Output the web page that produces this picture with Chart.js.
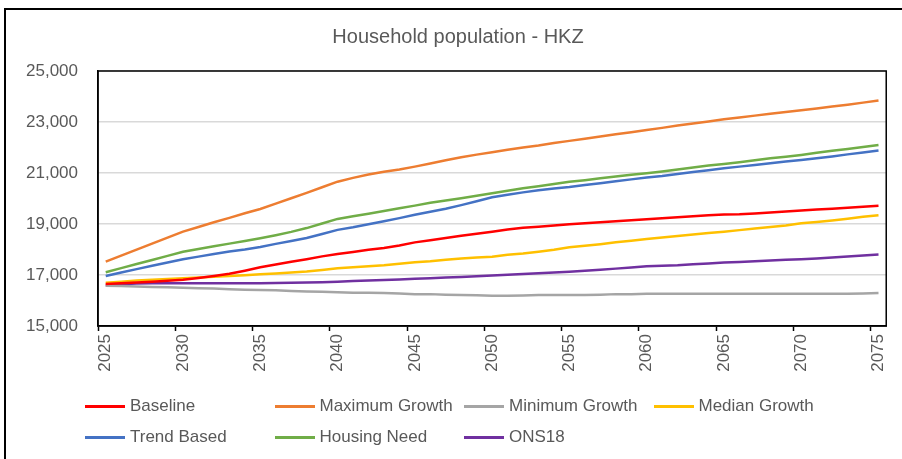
<!DOCTYPE html>
<html>
<head>
<meta charset="utf-8">
<title>Household population - HKZ</title>
<script src="https://cdn.jsdelivr.net/npm/chart.js@4.4.1/dist/chart.umd.min.js"></script>
<style>
    html, body { margin: 0; padding: 0; background: #fff; }
    #wrap { position: relative; width: 902px; height: 459px; overflow: hidden; font-family: 'Liberation Sans', Arial, sans-serif; }
    #marco { position: absolute; left: 4px; top: 8px; width: 1000px; height: 1000px; border-left: 2px solid #000; border-top: 2px solid #000; }
    #grafico { position: absolute; left: 0; top: 0; }
    .leyenda-item { position: absolute; height: 20px; display: flex; align-items: center; font-size: 17px; color: #595959; white-space: nowrap; }
    .leyenda-linea { width: 40px; height: 3px; margin-right: 5px; }
</style>
</head>
<body>
<div id="wrap">
    <div id="marco"></div>
    <canvas id="grafico" width="902" height="459"></canvas>
    <div id="leyenda"></div>
</div>
<script>
// Años del eje X
const anios = [2025, 2026, 2027, 2028, 2029, 2030, 2031, 2032, 2033, 2034,
    2035, 2036, 2037, 2038, 2039, 2040, 2041, 2042, 2043, 2044,
    2045, 2046, 2047, 2048, 2049, 2050, 2051, 2052, 2053, 2054,
    2055, 2056, 2057, 2058, 2059, 2060, 2061, 2062, 2063, 2064,
    2065, 2066, 2067, 2068, 2069, 2070, 2071, 2072, 2073, 2074, 2075];

// Valores
const baseline = [16650, 16680, 16710, 16740, 16770, 16810, 16880, 16960, 17050, 17170,
    17300, 17410, 17520, 17620, 17730, 17820, 17900, 17990, 18060, 18160,
    18280, 18360, 18450, 18540, 18620, 18700, 18780, 18850, 18890, 18940,
    18990, 19030, 19070, 19110, 19150, 19190, 19230, 19260, 19300, 19340,
    19370, 19380, 19410, 19450, 19490, 19530, 19570, 19600, 19640, 19680, 19720];

const maximumGrowth = [17525, 17760, 17995, 18230, 18465, 18700, 18880, 19070, 19240, 19420,
    19590, 19800, 20010, 20220, 20440, 20660, 20810, 20940, 21050, 21140,
    21250, 21370, 21500, 21620, 21720, 21810, 21910, 22000, 22080, 22180,
    22260, 22340, 22430, 22520, 22600, 22690, 22770, 22860, 22940, 23020,
    23110, 23180, 23250, 23320, 23390, 23460, 23530, 23610, 23680, 23760, 23840];

const minimumGrowth = [16580, 16570, 16550, 16530, 16520, 16500, 16480, 16470, 16440, 16420,
    16410, 16400, 16370, 16350, 16340, 16320, 16300, 16300, 16290, 16270,
    16250, 16250, 16230, 16220, 16210, 16190, 16190, 16200, 16220, 16220,
    16220, 16220, 16230, 16250, 16250, 16260, 16260, 16260, 16260, 16260,
    16260, 16260, 16260, 16260, 16260, 16260, 16260, 16260, 16260, 16270, 16290];

const medianGrowth = [16700, 16740, 16780, 16810, 16840, 16870, 16900, 16930, 16960, 16990,
    17030, 17060, 17100, 17140, 17200, 17260, 17300, 17340, 17380, 17440,
    17500, 17540, 17600, 17650, 17690, 17720, 17790, 17840, 17910, 17990,
    18090, 18150, 18210, 18280, 18340, 18410, 18470, 18530, 18590, 18650,
    18700, 18760, 18820, 18880, 18940, 19030, 19080, 19140, 19210, 19280, 19340];

const trendBased = [16960, 17100, 17230, 17360, 17490, 17620, 17720, 17820, 17920, 18000,
    18100, 18220, 18330, 18450, 18610, 18770, 18870, 18990, 19110, 19230,
    19360, 19480, 19600, 19740, 19890, 20050, 20150, 20240, 20320, 20390,
    20450, 20530, 20600, 20680, 20750, 20820, 20880, 20960, 21040, 21110,
    21190, 21250, 21310, 21380, 21450, 21510, 21580, 21650, 21730, 21800, 21880];

const housingNeed = [17110, 17270, 17430, 17590, 17750, 17910, 18020, 18130, 18230, 18330,
    18440, 18560, 18690, 18840, 19020, 19200, 19300, 19400, 19510, 19620,
    19720, 19830, 19920, 20010, 20110, 20210, 20300, 20400, 20480, 20570,
    20660, 20720, 20790, 20860, 20930, 20990, 21060, 21140, 21220, 21290,
    21350, 21420, 21500, 21580, 21640, 21710, 21790, 21870, 21940, 22020, 22100];

const ons18 = [16590, 16640, 16670, 16680, 16680, 16680, 16680, 16680, 16680, 16680,
    16680, 16690, 16700, 16710, 16720, 16740, 16760, 16780, 16800, 16820,
    16850, 16870, 16900, 16920, 16950, 16980, 17010, 17040, 17070, 17100,
    17130, 17170, 17210, 17250, 17290, 17340, 17360, 17380, 17420, 17450,
    17490, 17510, 17540, 17570, 17600, 17620, 17650, 17690, 17730, 17760, 17800];

// Marcas del eje Y
const yMin = 15000;
const yMax = 25000;
const yPaso = 2000;

const series = [
    { label: 'Baseline', data: baseline, color: '#FF0000' },
    { label: 'Maximum Growth', data: maximumGrowth, color: '#ED7D31' },
    { label: 'Minimum Growth', data: minimumGrowth, color: '#A5A5A5' },
    { label: 'Median Growth', data: medianGrowth, color: '#FFC000' },
    { label: 'Trend Based', data: trendBased, color: '#4472C4' },
    { label: 'Housing Need', data: housingNeed, color: '#70AD47' },
    { label: 'ONS18', data: ons18, color: '#7030A0' }
];

const textoGris = '#595959';
const fuente = "'Liberation Sans', Arial, sans-serif";

// Marco negro alrededor del área de trazado
const marcoPlot = {
    id: 'marcoPlot',
    afterDraw(chart) {
        const { ctx, chartArea: a } = chart;
        ctx.save();
        ctx.strokeStyle = '#000';
        ctx.lineWidth = 1.5;
        ctx.strokeRect(a.left, a.top, a.right - a.left, a.bottom - a.top);
        ctx.restore();
    }
};

const ctx = document.getElementById('grafico').getContext('2d');
const grafico = new Chart(ctx, {
    type: 'line',
    data: {
        labels: anios,
        datasets: series.map(s => ({
            label: s.label,
            data: s.data,
            borderColor: s.color,
            backgroundColor: s.color,
            borderWidth: 2.5,
            pointRadius: 0,
            tension: 0,
            fill: false
        }))
    },
    options: {
        responsive: false,
        animation: false,
        layout: { padding: { left: 24, right: 10, top: 0, bottom: 0 } },
        plugins: {
            legend: { display: false },
            tooltip: { enabled: false },
            title: {
                display: true,
                text: 'Household population - HKZ',
                color: textoGris,
                font: { family: fuente, size: 20, weight: 'normal' },
                padding: { top: 25, bottom: 22 }
            }
        },
        scales: {
            x: {
                offset: true,
                afterFit: scale => { scale.height = 133; },
                grid: {
                    offset: true,
                    drawOnChartArea: false,
                    tickLength: 5,
                    tickWidth: 1.5,
                    tickColor: c => (c.index !== undefined && c.index % 5 === 0) ? '#000' : 'rgba(0,0,0,0)'
                },
                border: { color: '#000', width: 1.5 },
                ticks: {
                    autoSkip: false,
                    minRotation: 90,
                    maxRotation: 90,
                    padding: 3,
                    color: textoGris,
                    font: { family: fuente, size: 17 },
                    callback: (val, i) => anios[i] % 5 === 0 ? String(anios[i]) : ''
                }
            },
            y: {
                min: yMin,
                max: yMax,
                afterFit: scale => { scale.width = 74; },
                grid: { color: '#D9D9D9', lineWidth: 1.5, drawTicks: false },
                border: { color: '#000', width: 1.5 },
                ticks: {
                    stepSize: yPaso,
                    padding: 20,
                    color: textoGris,
                    font: { family: fuente, size: 17 },
                    callback: v => v.toLocaleString('en-US')
                }
            }
        }
    },
    plugins: [marcoPlot]
});

// Leyenda en rejilla, como en el original
const leyenda = document.getElementById('leyenda');
series.forEach((s, i) => {
    const fila = Math.floor(i / 4);
    const col = i % 4;
    const item = document.createElement('div');
    item.className = 'leyenda-item';
    item.style.left = (85 + col * 189.5) + 'px';
    item.style.top = (396 + fila * 31) + 'px';
    item.innerHTML = `<span class="leyenda-linea" style="background:${s.color}"></span>${s.label}`;
    leyenda.appendChild(item);
});
</script>
</body>
</html>
